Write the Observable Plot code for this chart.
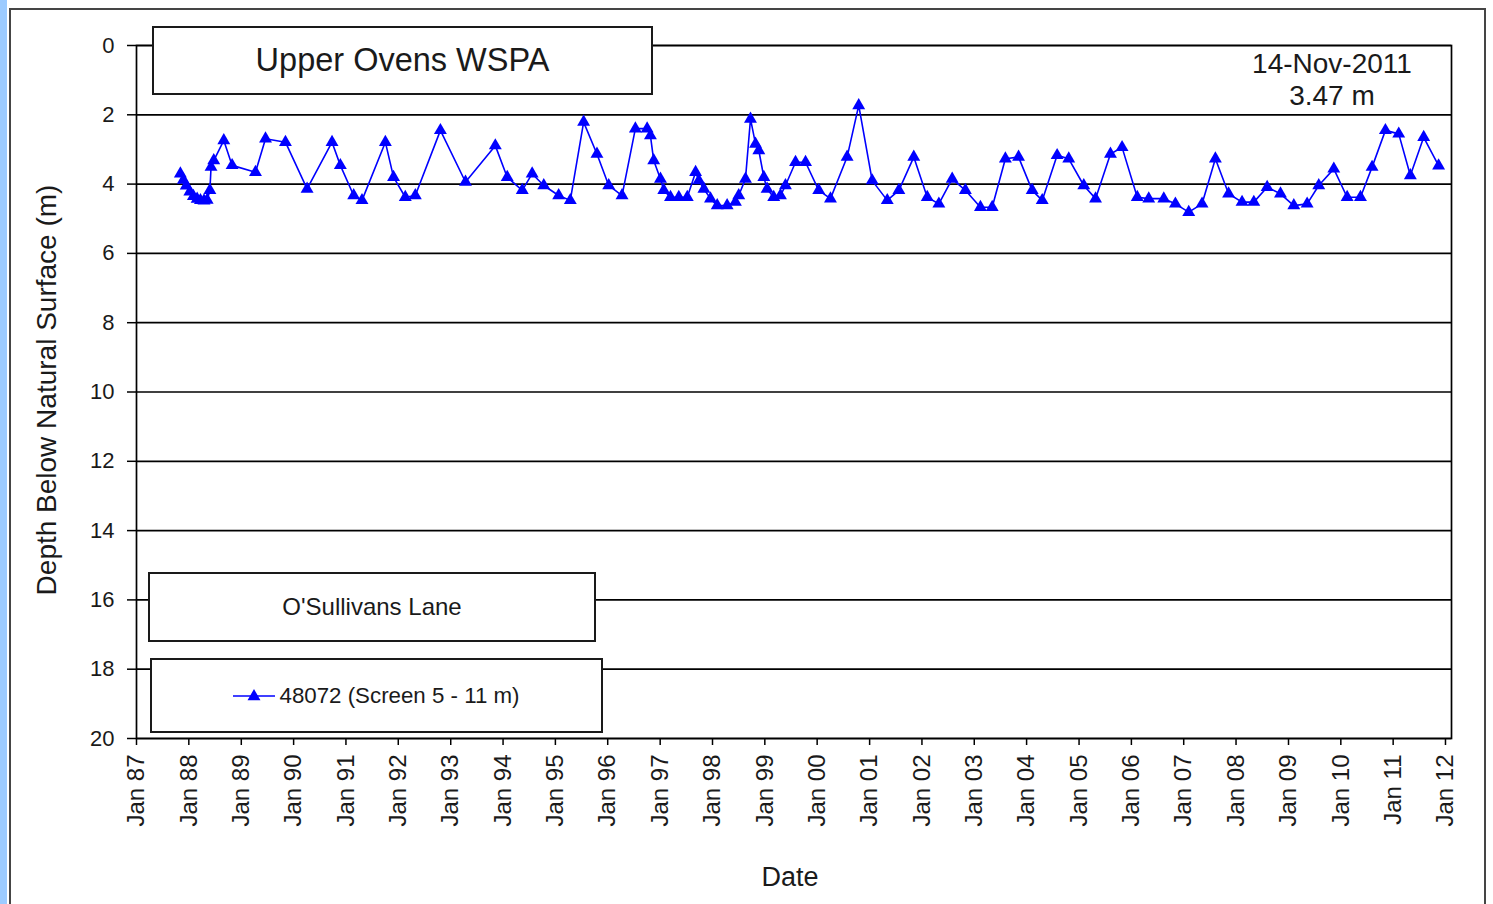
<!DOCTYPE html>
<html>
<head>
<meta charset="utf-8">
<script src="https://cdn.jsdelivr.net/npm/d3@7"></script>
<script src="https://cdn.jsdelivr.net/npm/@observablehq/plot@0.6"></script>
<style>
html, body { margin: 0; padding: 0; background: #fff; }
#wrap { position: relative; width: 1493px; height: 904px; overflow: hidden;
  font-family: "Liberation Sans", Arial, sans-serif; color: #1a1a1a; }
#strip { position: absolute; left: 0; top: 0; width: 7px; height: 904px; background: #9ccbff; }
#outer { position: absolute; left: 9px; top: 8px; width: 1477px; height: 940px;
  border: 2px solid #454545; box-sizing: border-box; }
#chart { position: absolute; left: 0; top: 0; }
.box { position: absolute; background: #fff; border: 2px solid #1a1a1a; box-sizing: border-box;
  display: flex; align-items: center; justify-content: center; white-space: nowrap; }
.lbl { position: absolute; white-space: nowrap; }
</style>
</head>
<body>
<div id="wrap">
  <div id="strip"></div>
  <div id="outer"></div>
  <div id="chart"></div>
  <div class="box" id="title" style="left:152px;top:26px;width:501px;height:69px;font-size:32.5px;"></div>
  <div class="lbl" id="stamp" style="left:1232px;top:48px;width:200px;text-align:center;font-size:28px;line-height:32px;"></div>
  <div class="box" id="site" style="left:148px;top:572px;width:448px;height:70px;font-size:24px;"></div>
  <div class="box" id="legend" style="left:150px;top:658px;width:453px;height:75px;font-size:22.3px;"></div>
  <div class="lbl" id="ylab" style="left:47px;top:390px;transform:translate(-50%,-50%) rotate(-90deg);font-size:28px;"></div>
  <div class="lbl" id="xlab" style="left:790px;top:877px;transform:translate(-50%,-50%);font-size:27px;"></div>
</div>
<script>
// ---- Data ----
const titleText = "Upper Ovens WSPA";
const siteText = "O'Sullivans Lane";
const seriesName = "48072 (Screen 5 - 11 m)";
const stampLines = ["14-Nov-2011", "3.47 m"];
const yLabel = "Depth Below Natural Surface (m)";
const xLabel = "Date";

const tickYears = [1987,1988,1989,1990,1991,1992,1993,1994,1995,1996,1997,1998,1999,
  2000,2001,2002,2003,2004,2005,2006,2007,2008,2009,2010,2011,2012];
const yTicks = [0,2,4,6,8,10,12,14,16,18,20];
const xDomain = ["1987-01-01", "2012-02-12"];

const dates = [
"1987-11-03","1987-11-24","1987-12-14","1988-01-08","1988-02-02","1988-02-28","1988-03-22","1988-04-16",
"1988-05-08","1988-05-27","1988-06-04","1988-06-23","1988-09-01","1988-10-29","1989-04-10","1989-06-19",
"1989-11-05","1990-04-05","1990-09-26","1990-11-23","1991-02-24","1991-04-23","1991-10-03","1991-11-29",
"1992-02-19","1992-04-29","1992-10-21","1993-04-14","1993-11-08","1994-01-30","1994-05-15","1994-07-23",
"1994-10-12","1995-01-24","1995-04-15","1995-07-17","1995-10-18","1996-01-08","1996-04-10","1996-07-12",
"1996-10-02","1996-10-25","1996-11-17","1997-01-03","1997-01-26","1997-03-14","1997-05-11","1997-07-09",
"1997-09-05","1997-09-28","1997-11-02","1997-12-18","1998-02-03","1998-04-13","1998-06-10","1998-07-03",
"1998-08-19","1998-09-23","1998-10-28","1998-11-20","1998-12-25","1999-01-17","1999-03-04","1999-04-20",
"1999-05-25","1999-08-03","1999-10-12","2000-01-12","2000-04-03","2000-07-28","2000-10-17","2001-01-19",
"2001-05-04","2001-07-24","2001-11-05","2002-02-07","2002-04-29","2002-07-31","2002-10-31","2003-02-13",
"2003-05-06","2003-08-06","2003-11-06","2004-02-09","2004-04-19","2004-08-01","2004-10-21","2005-02-03",
"2005-04-26","2005-08-08","2005-10-28","2006-02-11","2006-05-02","2006-08-15","2006-11-04","2007-02-05",
"2007-05-09","2007-08-10","2007-11-10","2008-02-12","2008-05-04","2008-08-05","2008-11-06","2009-02-07",
"2009-05-11","2009-07-31","2009-11-13","2010-02-14","2010-05-18","2010-08-07","2010-11-08","2011-02-09",
"2011-05-01","2011-08-02","2011-11-14"
];
const depths = [
3.70,3.88,4.05,4.22,4.35,4.43,4.47,4.48,
4.46,4.18,3.51,3.32,2.74,3.46,3.66,2.69,
2.79,4.14,2.79,3.46,4.33,4.47,2.79,3.80,
4.38,4.33,2.45,3.94,2.89,3.80,4.18,3.70,
4.04,4.33,4.47,2.21,3.13,4.04,4.33,2.40,
2.40,2.60,3.32,3.85,4.18,4.38,4.38,4.38,
3.66,3.90,4.14,4.42,4.62,4.62,4.52,4.33,
3.85,2.12,2.84,3.03,3.80,4.14,4.38,4.33,
4.04,3.37,3.37,4.18,4.42,3.22,1.73,3.90,
4.47,4.18,3.22,4.38,4.57,3.85,4.18,4.67,
4.67,3.27,3.22,4.18,4.47,3.17,3.27,4.04,
4.42,3.13,2.94,4.38,4.42,4.42,4.57,4.81,
4.57,3.27,4.28,4.52,4.52,4.09,4.28,4.62,
4.57,4.04,3.56,4.38,4.38,3.51,2.45,2.55,
3.75,2.65,3.47
];

// ---- Build ----
const data = dates.map((d, i) => ({date: new Date(d + "T00:00:00Z"), depth: depths[i]}));
const tickDates = tickYears.map(y => new Date(Date.UTC(y, 0, 1)));
const fmt = d3.utcFormat("Jan %y");
const blue = "#0000ff";

const chart = Plot.plot({
  width: 1493,
  height: 904,
  marginLeft: 136,
  marginRight: 42,
  marginTop: 45,
  marginBottom: 166,
  style: {fontFamily: '"Liberation Sans", Arial, sans-serif', fontSize: "22px", color: "#1a1a1a",
          background: "transparent", overflow: "visible"},
  x: {type: "utc", domain: xDomain.map(d => new Date(d + "T00:00:00Z"))},
  y: {domain: [yTicks[0], yTicks[yTicks.length - 1]], reverse: true},
  marks: [
    Plot.ruleY(yTicks, {stroke: "#000", strokeWidth: 1.7}),
    Plot.frame({stroke: "#000", strokeWidth: 1.7}),
    Plot.axisY({ticks: yTicks, tickSize: 9, tickPadding: 13, label: null, fontSize: 22, stroke: "#000", strokeWidth: 1.5}),
    Plot.axisX({ticks: tickDates, tickFormat: fmt, tickRotate: -90, tickSize: 7, tickPadding: 9,
                label: null, fontSize: 24, stroke: "#000", strokeWidth: 1.5}),
    Plot.line(data, {x: "date", y: "depth", stroke: blue, strokeWidth: 1.6}),
    Plot.dot(data, {x: "date", y: "depth", symbol: "triangle", r: 4.8, fill: blue, stroke: "none"})
  ]
});
document.getElementById("chart").appendChild(chart);

document.getElementById("title").textContent = titleText;
document.getElementById("site").textContent = siteText;
document.getElementById("stamp").innerHTML = stampLines.join("<br>");
document.getElementById("ylab").textContent = yLabel;
document.getElementById("xlab").textContent = xLabel;

// legend swatch + label
const lg = document.getElementById("legend");
const sw = d3.create("svg").attr("width", 42).attr("height", 16).style("margin-right", "4px");
sw.append("line").attr("x1", 0).attr("x2", 42).attr("y1", 8).attr("y2", 8).attr("stroke", blue).attr("stroke-width", 1.6);
sw.append("path").attr("d", d3.symbol(d3.symbolTriangle, 72)()).attr("transform", "translate(21,8.5)").attr("fill", blue);
lg.appendChild(sw.node());
const sp = document.createElement("span");
sp.textContent = seriesName;
lg.appendChild(sp);
</script>
</body>
</html>
